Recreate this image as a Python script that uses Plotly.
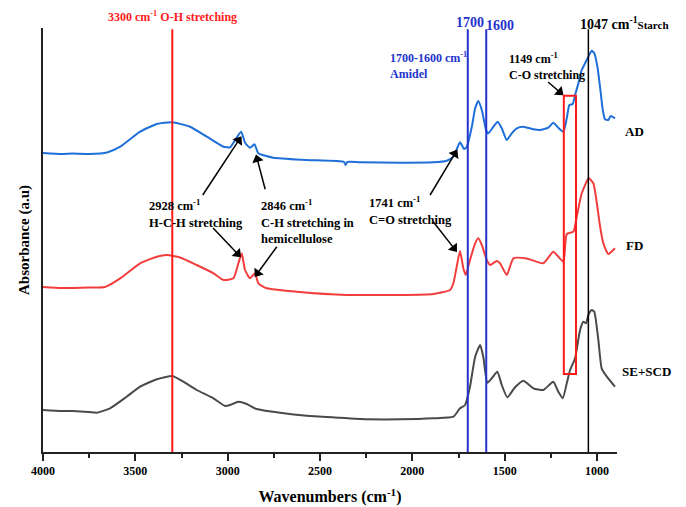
import math
import plotly.graph_objects as go

# ---------------- data ----------------
ad_wn = [4000, 3900, 3838, 3750, 3653, 3582, 3474, 3384, 3302, 3204, 3113, 3023, 2987, 2960, 2927, 2906,
         2879, 2855, 2834, 2753, 2572, 2370, 2362, 2352, 2283, 2067, 1886, 1814, 1778, 1742, 1720, 1705,
         1678, 1660, 1643, 1624, 1601, 1589, 1561, 1538, 1516, 1489, 1462, 1435, 1399, 1345, 1309, 1264,
         1237, 1210, 1182, 1164, 1150, 1132, 1119, 1101, 1083, 1065, 1047, 1029, 1015, 998, 984, 969,
         957, 939, 926, 903]
ad_abs = [2.99, 2.98, 2.985, 2.98, 2.995, 3.053, 3.203, 3.28, 3.297, 3.253, 3.153, 3.053, 3.047, 3.12, 3.203, 3.093,
          3.043, 3.077, 2.987, 2.943, 2.92, 2.90, 2.87, 2.90, 2.897, 2.893, 2.897, 2.913, 2.953, 3.097, 3.03, 3.053,
          3.253, 3.437, 3.51, 3.42, 3.22, 3.187, 3.253, 3.303, 3.237, 3.12, 3.187, 3.237, 3.253, 3.227, 3.22, 3.243,
          3.293, 3.243, 3.203, 3.337, 3.47, 3.48, 3.57, 3.687, 3.82, 3.887, 3.953, 4.013, 3.987, 3.853, 3.653, 3.42,
          3.327, 3.32, 3.36, 3.337]

fd_wn = [4000, 3900, 3838, 3750, 3665, 3582, 3474, 3384, 3330, 3258, 3168, 3077, 3023, 2969, 2942, 2924,
         2906, 2879, 2852, 2834, 2788, 2626, 2355, 2175, 2067, 1886, 1796, 1778, 1760, 1742, 1724, 1711,
         1688, 1660, 1643, 1624, 1597, 1579, 1543, 1525, 1489, 1453, 1381, 1291, 1237, 1210, 1182, 1164,
         1128, 1110, 1083, 1045, 1020, 1002, 984, 966, 939, 903]
fd_abs = [1.65, 1.64, 1.64, 1.645, 1.65, 1.737, 1.887, 1.953, 1.97, 1.945, 1.87, 1.787, 1.72, 1.737, 1.887, 1.987,
          1.82, 1.737, 1.787, 1.687, 1.637, 1.603, 1.57, 1.57, 1.57, 1.58, 1.62, 1.687, 1.853, 2.01, 1.837, 1.77,
          1.92, 2.087, 2.137, 2.07, 1.92, 1.87, 1.91, 1.887, 1.77, 1.937, 1.935, 1.887, 2.003, 1.953, 1.903, 2.18,
          2.203, 2.353, 2.587, 2.737, 2.687, 2.50, 2.26, 2.087, 1.98, 2.037]

se_wn = [4000, 3900, 3837, 3750, 3710, 3637, 3547, 3474, 3384, 3299, 3240, 3168, 3077, 3014, 2987, 2942,
         2897, 2843, 2717, 2572, 2392, 2283, 2067, 1886, 1778, 1742, 1715, 1688, 1660, 1633, 1616, 1594,
         1570, 1540, 1516, 1486, 1444, 1399, 1345, 1291, 1237, 1210, 1186, 1164, 1146, 1119, 1092, 1074,
         1060, 1047, 1029, 1015, 993, 975, 947, 903]
se_abs = [0.42, 0.41, 0.41, 0.40, 0.393, 0.437, 0.553, 0.653, 0.727, 0.76, 0.703, 0.62, 0.537, 0.46, 0.47, 0.503,
          0.48, 0.43, 0.393, 0.363, 0.343, 0.33, 0.327, 0.337, 0.353, 0.437, 0.47, 0.653, 0.953, 1.07, 0.953, 0.693,
          0.737, 0.803, 0.67, 0.547, 0.647, 0.713, 0.637, 0.62, 0.703, 0.603, 0.537, 0.687, 0.82, 0.937, 1.22, 1.303,
          1.287, 1.37, 1.42, 1.403, 1.12, 0.837, 0.753, 0.653]

series_names = ["AD", "FD", "SE+SCD"]
series_colors = ["#1f6fd8", "#f23d3d", "#4a4a4a"]

ref_lines = [3300, 1700, 1600, 1047]
ref_colors = ["#ff1a1a", "#2433cc", "#2433cc", "#000000"]

box_wn = [1180, 1114]
box_abs = [0.78, 3.563]

x_ticks = [4000, 3500, 3000, 2500, 2000, 1500, 1000]

# arrows: (head_wn, head_abs, tail_wn, tail_abs)
arrows = [(2927, 3.153, 3135, 2.57),
          (2930, 1.95, 3079, 2.24),
          (2846, 2.97, 2797, 2.627),
          (2852, 1.753, 2734, 2.053),
          (1758, 3.02, 1904, 2.57),
          (1760, 2.003, 1887, 2.303),
          (1184, 3.57, 1265, 3.70)]

FONT = "Liberation Serif, Times New Roman, serif"
W, H = 686, 507
ML, MR, MT, MB = 43, 69, 28, 55
XR = [4000, 892]
YR = [0, 4.24]

fig = go.Figure()
for wn, ab, name, col in zip([ad_wn, fd_wn, se_wn], [ad_abs, fd_abs, se_abs], series_names, series_colors):
    fig.add_trace(go.Scatter(x=wn, y=ab, mode="lines", name=name,
                             line=dict(color=col, width=2, shape="spline", smoothing=0.5),
                             showlegend=False, hoverinfo="skip"))

shapes = []
for xv, col in zip(ref_lines, ref_colors):
    shapes.append(dict(type="line", xref="x", yref="paper", x0=xv, x1=xv, y0=0, y1=0.997,
                       line=dict(color=col, width=2 if col != "#000000" else 1.5)))
shapes.append(dict(type="rect", xref="x", yref="y", x0=box_wn[0], x1=box_wn[1], y0=box_abs[0], y1=box_abs[1],
                   line=dict(color="#ff1a1a", width=2)))

# arrows as line shapes + triangle markers
sx = (W - ML - MR) / (XR[0] - XR[1])
sy = (H - MT - MB) / (YR[1] - YR[0])
head_x, head_y, head_ang = [], [], []
for hx, hy, tx, ty in arrows:
    dxp = -(hx - tx) * sx
    dyp = -(hy - ty) * sy
    L = math.hypot(dxp, dyp)
    ux, uy = dxp / L, dyp / L
    back = 4.5
    cx = hx + back * ux / sx
    cy = hy + back * uy / sy
    shapes.append(dict(type="line", xref="x", yref="y", x0=tx, y0=ty, x1=cx, y1=cy,
                       line=dict(color="black", width=1.5)))
    head_x.append(cx)
    head_y.append(cy)
    head_ang.append(math.degrees(math.atan2(ux, -uy)))
fig.add_trace(go.Scatter(x=head_x, y=head_y, mode="markers", showlegend=False, hoverinfo="skip",
                         marker=dict(symbol="triangle-up", size=10, color="black", angle=head_ang,
                                     line=dict(width=0))))

ann = []
def txt(x, y, text, color="black", size=12, xanchor="left", xref="x", yref="y"):
    ann.append(dict(x=x, y=y, xref=xref, yref=yref, text=text, showarrow=False, xanchor=xanchor,
                    yanchor="middle", align="left", font=dict(family=FONT, size=size, color=color)))

txt(3300, 1.026, "<b>3300 cm<sup>-1</sup> O-H stretching</b>", color="#ff1a1a", size=12, xanchor="center", yref="paper")
txt(1689, 1.0125, "<b>1700</b>", color="#2433cc", size=14, xanchor="center", yref="paper")
txt(1525, 1.007, "<b>1600</b>", color="#2433cc", size=14, xanchor="center", yref="paper")
txt(1103, 1.0125, "<b>1047 cm<sup>-1</sup><span style='font-size:11px'>Starch</span></b>", size=14, yref="paper")
txt(2131, 3.87, "<b>1700-1600 cm<sup>-1</sup><br>Amidel</b>", color="#2433cc", size=12)
txt(1487, 3.857, "<b>1149 cm<sup>-1</sup><br>C-O stretching</b>", size=12)
txt(3439, 2.383, "<b>2928 cm<sup>-1</sup><br>H-C-H stretching</b>", size=12.5)
txt(2828, 2.31, "<b>2846 cm<sup>-1</sup><br>C-H stretching in<br>hemicellulose</b>", size=12.5)
txt(2243, 2.415, "<b>1741 cm<sup>-1</sup><br>C=O stretching</b>", size=12.5)

txt(1.031, 3.203, "<b>AD</b>", size=13, xanchor="center", xref="paper")
txt(1.031, 2.07, "<b>FD</b>", size=13, xanchor="center", xref="paper")
txt(1.052, 0.81, "<b>SE+SCD</b>", size=13, xanchor="center", xref="paper")

fig.update_layout(
    width=W, height=H,
    margin=dict(l=ML, r=MR, t=MT, b=MB, autoexpand=False),
    paper_bgcolor="white", plot_bgcolor="white",
    shapes=shapes, annotations=ann,
    font=dict(family=FONT, color="black"),
    xaxis=dict(range=XR, tickvals=x_ticks, ticktext=[f"<b>{v}</b>" for v in x_ticks], automargin=False,
               ticks="outside", ticklen=7, tickwidth=1.5, tickcolor="#222",
               minor=dict(dtick=250, tick0=1000, ticks="outside", ticklen=4, tickwidth=1.5, tickcolor="#222"),
               showline=True, linecolor="#222", linewidth=1.5, showgrid=False, zeroline=False,
               tickfont=dict(family=FONT, size=12, color="black"),
               title=dict(text="<b>Wavenumbers (cm<sup>-1</sup>)</b>", font=dict(family=FONT, size=16), standoff=14)),
    yaxis=dict(range=YR, showticklabels=False, ticks="", showline=True, linecolor="#222", linewidth=1.5,
               showgrid=False, zeroline=False, automargin=False,
               title=dict(text="<b>Absorbance (a.u)</b>", font=dict(family=FONT, size=15), standoff=8)),
)

fig.write_html("out.html")
